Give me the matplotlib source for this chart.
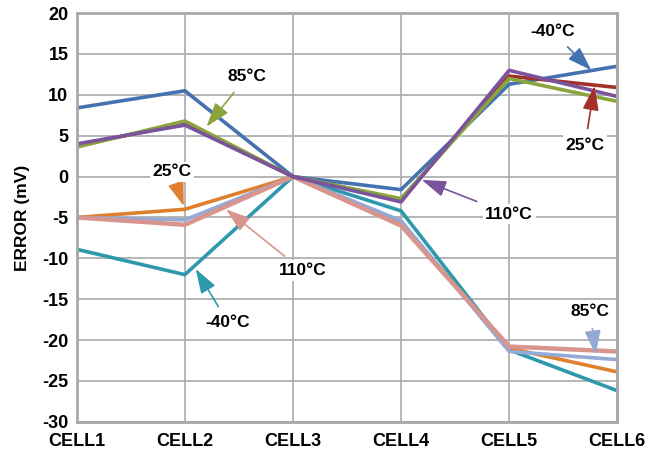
import matplotlib.pyplot as plt

plt.rcParams['font.family'] = ['Liberation Sans', 'DejaVu Sans']
plt.rcParams['axes.unicode_minus'] = False

cells = ['CELL1', 'CELL2', 'CELL3', 'CELL4', 'CELL5', 'CELL6']

# upper group
up_m40 = [8.4, 10.5, 0.0, -1.6, 11.3, 13.5]
up_25 = [3.8, 6.5, 0.0, -2.8, 12.3, 10.9]
up_85 = [3.6, 6.8, 0.0, -2.7, 12.0, 9.2]
up_110 = [4.0, 6.3, 0.0, -3.1, 13.0, 9.8]

# lower group
lo_m40 = [-8.9, -12.0, 0.0, -4.2, -21.2, -26.2]
lo_25 = [-5.0, -4.0, 0.0, -5.6, -21.0, -23.9]
lo_85 = [-5.0, -5.3, 0.0, -5.4, -21.4, -22.4]
lo_110 = [-5.0, -5.9, 0.0, -6.0, -20.8, -21.4]

c_up_m40 = '#4472b0'
c_up_25 = '#a3302b'
c_up_85 = '#8aa53c'
c_up_110 = '#7a539c'
c_lo_m40 = '#2e98ad'
c_lo_25 = '#e0802f'
c_lo_85 = '#93a9d6'
c_lo_110 = '#d8958e'

fig = plt.figure(figsize=(6.45, 4.53), dpi=100)
ax = fig.add_axes([0.119, 0.069, 0.838, 0.902])

x = list(range(len(cells)))
lw = 2.6
ax.plot(x, lo_m40, color=c_lo_m40, lw=lw)
ax.plot(x, lo_25, color=c_lo_25, lw=lw)
ax.plot(x, lo_85, color=c_lo_85, lw=lw)
ax.plot(x, lo_110, color=c_lo_110, lw=lw + 0.6)
ax.plot(x, up_m40, color=c_up_m40, lw=lw)
ax.plot(x, up_25, color=c_up_25, lw=lw)
ax.plot(x, up_85, color=c_up_85, lw=lw)
ax.plot(x, up_110, color=c_up_110, lw=lw)

ax.set_xlim(0, 5)
ax.set_ylim(-30, 20)
ax.set_xticks(x)
ax.set_xticklabels(cells)
ax.set_yticks(range(-30, 21, 5))
ax.tick_params(length=0, labelsize=13)
ax.tick_params(axis='x', pad=8)
ax.tick_params(axis='y', pad=6)
for lab in ax.get_xticklabels() + ax.get_yticklabels():
    lab.set_fontweight('bold')
ax.grid(True, color='#b0b0b0', lw=1.3)
ax.set_axisbelow(True)
for s in ax.spines.values():
    s.set_color('#a8a8a8')
    s.set_linewidth(2)
ax.set_ylabel('ERROR (mV)', fontsize=12.5, fontweight='bold', labelpad=9)

def note(txt, xy, xytext, color):
    ax.annotate(txt, xy=xy, xytext=xytext, fontsize=12.5, fontweight='bold',
                ha='center', va='center',
                bbox=dict(boxstyle='square,pad=0.15', fc='white', ec='none'),
                arrowprops=dict(arrowstyle='-|>,head_width=0.4,head_length=1.2',
                                color=color, lw=1.2, shrinkA=5, shrinkB=0))

note('85°C', (1.2, 6.1), (1.57, 12.2), c_up_85)
note('25°C', (0.99, -3.6), (0.88, 0.6), c_lo_25)
note('110°C', (1.38, -4.0), (2.09, -11.5), c_lo_110)
note('-40°C', (1.1, -11.3), (1.4, -17.9), c_lo_m40)
note('-40°C', (4.76, 13.0), (4.4, 17.7), c_up_m40)
note('25°C', (4.79, 11.1), (4.7, 3.8), c_up_25)
note('110°C', (3.19, -0.4), (4.0, -4.6), c_up_110)
note('85°C', (4.8, -21.8), (4.75, -16.5), c_lo_85)

fig.savefig('out.png', dpi=100)
